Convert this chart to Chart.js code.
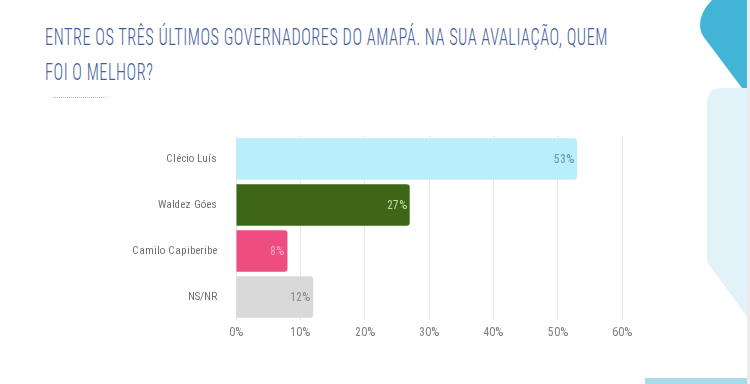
<!DOCTYPE html>
<html><head><meta charset="utf-8">
<script src="https://cdn.jsdelivr.net/npm/chart.js@4"></script>
<style>
@font-face{font-family:'RC';src:local('Roboto Condensed'),local('RobotoCondensed-Regular');}
html,body{margin:0;padding:0;background:#fff;}
#wrap{position:relative;width:750px;height:384px;overflow:hidden;background:#fff;}
#c{position:absolute;left:0;top:0;}
#title{position:absolute;left:45px;top:20px;font-family:'Roboto',sans-serif;font-weight:300;font-stretch:condensed;font-size:24px;line-height:35px;color:#455d9c;letter-spacing:0.8px;white-space:nowrap;transform-origin:0 0;}
#deco{position:absolute;left:0;top:0;}
#probe{position:absolute;left:-1000px;top:0;font-family:RC;}
</style></head>
<body><div id="wrap">
<svg id="deco" width="750" height="384">
  <path d="M748 0 L712 0 Q700 12 700 25 Q700 33 706 40 L748 96 Z" fill="#42b4d6"/>
  <path d="M748 88 L722 88 Q707 88 707 103 L707 262 L748 318 Z" fill="#e2f2f9"/>
  <rect x="645" y="378" width="103" height="6" fill="#a8dcea"/>
  <rect x="747" y="0" width="3" height="384" fill="#ececec"/>
  <line x1="53" y1="97.5" x2="106" y2="97.5" stroke="#aab6d6" stroke-width="1" stroke-dasharray="1,1"/>
</svg>
<div id="title"><span id="l1">ENTRE OS TRÊS ÚLTIMOS GOVERNADORES DO AMAPÁ. NA SUA AVALIAÇÃO, QUEM</span><br>FOI O MELHOR?</div>
<span id="probe">Clécio Luís 0123456789%</span>
<canvas id="c" width="750" height="384"></canvas>
</div>
<script>
const categories = ["Clécio Luís", "Waldez Góes", "Camilo Capiberibe", "NS/NR"];
const values = [53, 27, 8, 12];
const barColors = ["#b9eefc", "#3d6716", "#ee4d82", "#d9d9d9"];
const labelColors = ["#6f95a6", "#b6dc9c", "#f8a3c2", "#8a8a8a"];
const xTicks = [0, 10, 20, 30, 40, 50, 60];

// fit title line 1 to reference width
const l1 = document.getElementById('l1');
const t = document.getElementById('title');
const w = l1.getBoundingClientRect().width;
t.style.transform = 'scaleX(' + (563 / w) + ')';

const fontFam = 'RC, "Roboto", sans-serif';

const valueLabels = {
  id: 'valueLabels',
  afterDatasetsDraw(chart) {
    const ctx = chart.ctx;
    const meta = chart.getDatasetMeta(0);
    ctx.save();
    ctx.font = '12px ' + fontFam;
    ctx.textAlign = 'right';
    ctx.textBaseline = 'middle';
    meta.data.forEach((bar, i) => {
      ctx.fillStyle = labelColors[i];
      ctx.fillText(values[i] + '%', bar.x - 3, bar.y);
    });
    ctx.restore();
  }
};

function draw() {
  new Chart(document.getElementById('c'), {
    type: 'bar',
    data: {
      labels: categories,
      datasets: [{
        data: values,
        backgroundColor: barColors,
        borderRadius: 3,
        borderSkipped: 'start',
        barPercentage: 0.9,
        categoryPercentage: 1.0
      }]
    },
    options: {
      indexAxis: 'y',
      responsive: false,
      animation: false,
      layout: { padding: { left: 0, right: 128, top: 136, bottom: 34 } },
      plugins: { legend: { display: false }, tooltip: { enabled: false } },
      scales: {
        x: {
          min: 0, max: 60,
          afterBuildTicks(scale) { scale.ticks = xTicks.map(v => ({ value: v })); },
          afterFit(scale) { scale.height = 30; },
          grid: { color: '#e6e6e6', drawTicks: false },
          border: { display: false },
          ticks: { color: '#808080', font: { family: fontFam, size: 12 }, padding: 5, callback: v => v + '%' }
        },
        y: {
          afterFit(scale) { scale.width = 236; },
          grid: { display: false },
          border: { display: false },
          ticks: { color: '#707070', font: { family: fontFam, size: 11 }, padding: 11 }
        }
      }
    },
    plugins: [valueLabels]
  });
}
Promise.all([document.fonts.load('12px RC'), document.fonts.ready]).then(draw, draw);
</script>
</body></html>
